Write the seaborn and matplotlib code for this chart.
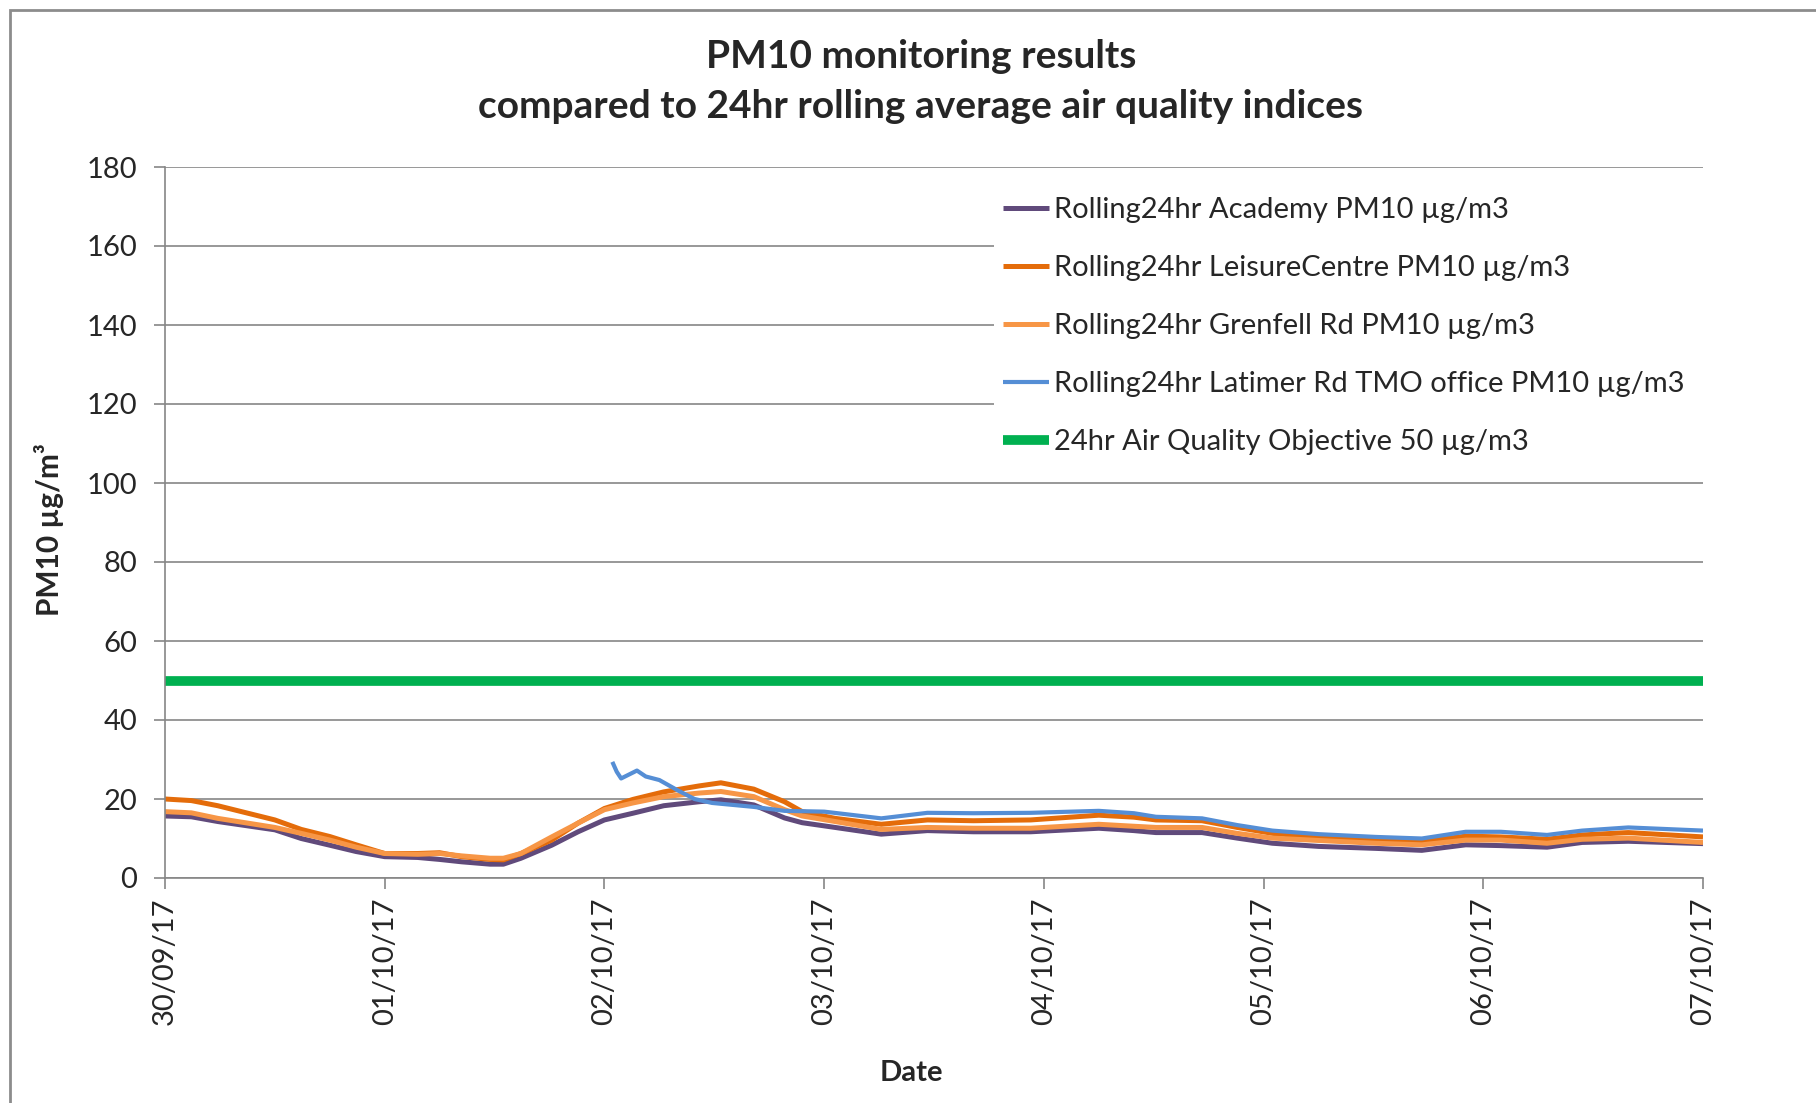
import pandas as pd
import numpy as np
import matplotlib.pyplot as plt
import matplotlib.dates as mdates
import matplotlib.patches as patches
import seaborn as sns

# days since 30/09/17 00:00 for the three full-length series
days = [0, 0.12, 0.24, 0.5, 0.62, 0.75, 0.87, 1.0, 1.15, 1.25, 1.35, 1.48, 1.54, 1.62,
        1.76, 1.88, 2.0, 2.13, 2.27, 2.43, 2.53, 2.68, 2.82, 2.9, 3.05, 3.26, 3.47, 3.68,
        3.94, 4.25, 4.41, 4.51, 4.72, 4.88, 5.04, 5.25, 5.51, 5.72, 5.92, 6.08, 6.29,
        6.45, 6.66, 7.0]

academy = [15.7, 15.5, 14.3, 12.2, 10.0, 8.3, 6.7, 5.4, 5.2, 4.7, 4.1, 3.5, 3.5, 5.0,
           8.3, 11.7, 14.7, 16.4, 18.3, 19.3, 19.8, 18.5, 15.2, 14.0, 12.8, 11.1, 12.0, 11.7,
           11.7, 12.6, 12.0, 11.5, 11.5, 10.1, 8.8, 8.0, 7.5, 7.0, 8.4, 8.2, 7.8,
           9.0, 9.3, 8.7]

leisure = [20.0, 19.6, 18.3, 14.7, 12.3, 10.5, 8.4, 6.2, 6.2, 6.4, 5.4, 4.7, 4.6, 6.2,
           9.6, 13.9, 17.6, 19.9, 21.8, 23.3, 24.1, 22.5, 19.3, 16.8, 15.1, 13.6, 14.7, 14.5,
           14.7, 15.9, 15.4, 14.7, 14.5, 12.8, 11.3, 10.3, 9.8, 9.2, 10.6, 10.4, 9.8,
           10.9, 11.5, 10.4]

grenfell = [16.8, 16.5, 15.1, 12.8, 11.3, 9.6, 7.8, 6.2, 6.0, 6.2, 5.6, 5.0, 5.0, 6.2,
            10.4, 13.9, 17.3, 19.0, 20.6, 21.5, 21.9, 20.6, 17.3, 15.7, 14.3, 12.3, 12.8, 12.6,
            12.6, 13.6, 13.1, 12.8, 12.8, 11.3, 10.1, 9.5, 8.8, 8.4, 9.6, 9.6, 8.8,
            9.8, 10.1, 9.0]

# Latimer Rd starts part way through 02/10
latimer_days = [2.036, 2.056, 2.076, 2.148, 2.188, 2.25, 2.33, 2.41, 2.49, 2.68, 2.82,
                3.0, 3.26, 3.47, 3.68, 3.94, 4.25, 4.41, 4.51, 4.72, 4.88, 5.04, 5.25,
                5.51, 5.72, 5.92, 6.08, 6.29, 6.45, 6.66, 7.0]
latimer = [29.4, 26.9, 25.2, 27.2, 25.7, 24.8, 22.3, 20.0, 19.0, 18.0, 17.0,
           16.8, 15.1, 16.5, 16.4, 16.5, 17.0, 16.4, 15.5, 15.1, 13.4, 12.0, 11.1,
           10.4, 10.0, 11.7, 11.7, 10.9, 12.0, 12.8, 12.0]

objective_days = [0, 7]
objective = [50, 50]

labels = ["Rolling24hr Academy PM10 µg/m3",
          "Rolling24hr LeisureCentre PM10 µg/m3",
          "Rolling24hr Grenfell Rd PM10 µg/m3",
          "Rolling24hr Latimer Rd TMO office PM10 µg/m3",
          "24hr Air Quality Objective 50 µg/m3"]
colors = ["#604A7B", "#E46C0A", "#F79646", "#558ED5", "#00B050"]

start = pd.Timestamp("2017-09-30")


def to_dates(d):
    return start + pd.to_timedelta(np.array(d), unit="D")


sns.set_style("white")
plt.rcParams['font.family'] = ['Lato', 'DejaVu Sans']

fig = plt.figure(figsize=(18.16, 11.03), dpi=100)
ax = fig.add_axes([165 / 1816, 1 - 878 / 1103, (1703 - 165) / 1816, (878 - 167) / 1103])

series = [(days, academy), (days, leisure), (days, grenfell), (latimer_days, latimer),
          (objective_days, objective)]
for i, (d, v) in enumerate(series):
    lw = 7 if i == 4 else (3.0 if i == 3 else 3.6)
    sns.lineplot(x=to_dates(d), y=v, ax=ax, color=colors[i], lw=lw, label=labels[i],
                 solid_capstyle="butt", solid_joinstyle="round")

ax.set_ylim(0, 180)
ax.set_yticks(range(0, 181, 20))
ax.set_xlim(start, start + pd.Timedelta(days=7))
ax.xaxis.set_major_locator(mdates.DayLocator())
ax.xaxis.set_major_formatter(mdates.DateFormatter("%d/%m/%y"))
ax.tick_params(axis="x", rotation=90, labelsize=21, length=8, width=1.2, color="#868686",
               direction="out", bottom=True, pad=6)
ax.tick_params(axis="y", labelsize=21, length=8, width=1.2, color="#868686",
               direction="out", left=True, pad=12)
ax.grid(axis="y", color="#868686", lw=1.2)
ax.set_axisbelow(True)
for s in ["top", "right"]:
    ax.spines[s].set_visible(False)
for s in ["left", "bottom"]:
    ax.spines[s].set_color("#868686")
    ax.spines[s].set_linewidth(1.2)

ax.set_xlabel("")
ax.set_ylabel("")
fig.text(911 / 1816, 1 - 1073 / 1103, "Date", fontsize=21, fontweight="bold",
         ha="center", va="center")
fig.text(49 / 1816, 1 - 530 / 1103, "PM10 µg/m³", fontsize=21.5, fontweight="bold",
         rotation=90, ha="center", va="center")

fig.text(921 / 1816, 1 - 57 / 1103, "PM10 monitoring results", fontsize=28,
         fontweight="bold", ha="center", va="center")
fig.text(921 / 1816, 1 - 106 / 1103, "compared to 24hr rolling average air quality indices",
         fontsize=28, fontweight="bold", ha="center", va="center")

# legend box spans to the right edge of the plot area, hiding the gridlines behind it
leg = ax.legend(loc="upper left",
                bbox_to_anchor=(994 / 1816, 1 - 188 / 1103, (1703 - 994) / 1816, 0),
                bbox_transform=fig.transFigure, mode="expand", fontsize=21, frameon=True,
                fancybox=False, framealpha=1, facecolor="white", edgecolor="none",
                handlelength=1.58, handletextpad=0.17, labelspacing=1.1, borderpad=0.3,
                borderaxespad=0)

# outer chart border (only top and left visible in the crop)
fig.patches.append(patches.Rectangle((10 / 1816, -0.05), 1.1, 1 - 10 / 1103 + 0.05,
                                     transform=fig.transFigure, fill=False,
                                     edgecolor="#8C8C8C", lw=2, zorder=0))

fig.savefig("out.png", dpi=100)
